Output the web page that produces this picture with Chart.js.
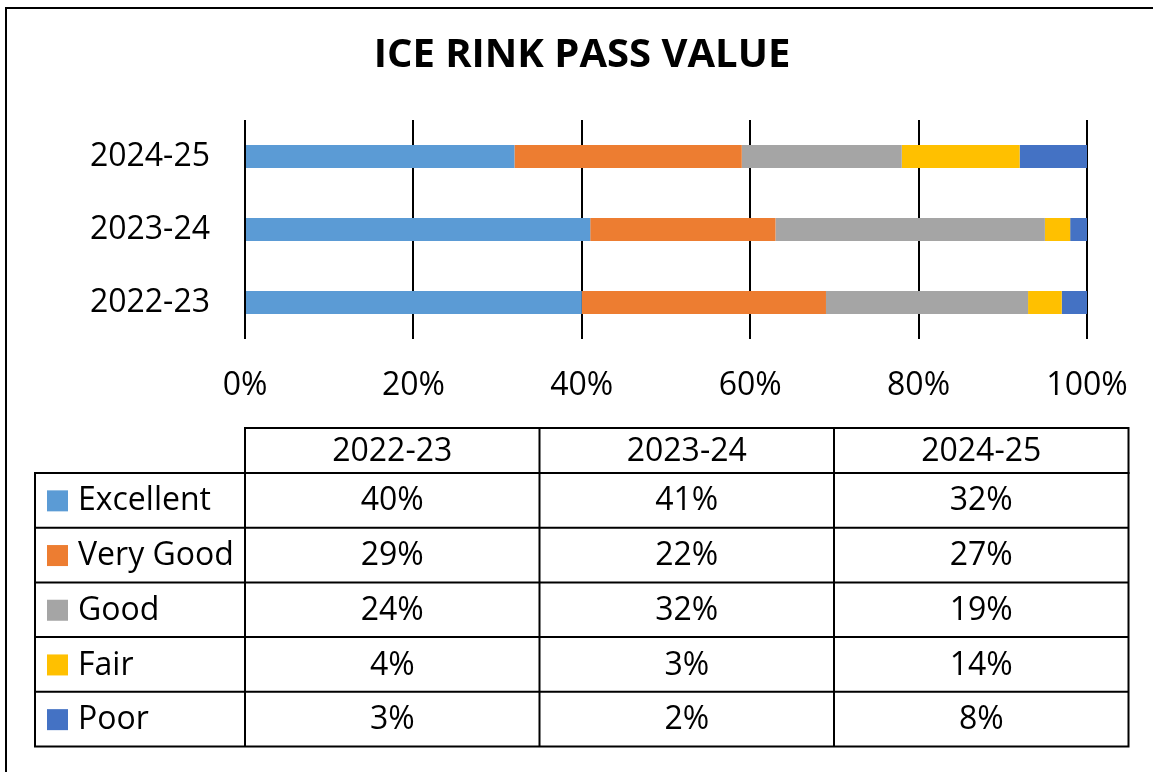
<!DOCTYPE html>
<html>
<head>
<meta charset="utf-8">
<title>Ice Rink Pass Value</title>
<script src="https://cdn.jsdelivr.net/npm/chart.js@4.4.1/dist/chart.umd.min.js"></script>
<style>
  html, body { margin: 0; padding: 0; background: #fff; }
  canvas { display: block; }
</style>
</head>
<body>
<canvas id="grafico" width="1153" height="772"></canvas>
<script>
// datos
const categories = ['2022-23', '2023-24', '2024-25'];
const seriesNames = ['Excellent', 'Very Good', 'Good', 'Fair', 'Poor'];
const excellent = [40, 41, 32];
const veryGood = [29, 22, 27];
const good = [24, 32, 19];
const fair = [4, 3, 14];
const poor = [3, 2, 8];
const xTicks = [0, 20, 40, 60, 80, 100];
const colores = ['#5B9BD5', '#ED7D31', '#A5A5A5', '#FFC000', '#4472C4'];

const seriesValues = [excellent, veryGood, good, fair, poor];
const fuente = "'Open Sans', sans-serif";

// tabla de datos debajo del grafico + marco
const tablaPlugin = {
  id: 'tablaDatos',
  afterDraw(chart) {
    const ctx = chart.ctx;
    const area = chart.chartArea;
    const colW = 294.5;
    const left = area.left;
    const right = left + colW * categories.length;
    const legendLeft = 35;
    const headTop = 428;
    const bodyTop = 473;
    const rowH = 54.7;
    const bodyBottom = bodyTop + rowH * seriesNames.length;

    ctx.save();
    ctx.strokeStyle = '#000';
    ctx.lineWidth = 2;

    // marco exterior
    ctx.beginPath();
    ctx.moveTo(6, 772);
    ctx.lineTo(6, 8);
    ctx.lineTo(1153, 8);
    ctx.stroke();

    // cabecera
    ctx.strokeRect(left, headTop, right - left, bodyTop - headTop);
    // cuerpo
    ctx.strokeRect(legendLeft, bodyTop, right - legendLeft, bodyBottom - bodyTop);
    ctx.beginPath();
    for (let i = 1; i < seriesNames.length; i++) {
      const y = bodyTop + rowH * i;
      ctx.moveTo(legendLeft, y);
      ctx.lineTo(right, y);
    }
    for (let c = 0; c < categories.length; c++) {
      const x = left + colW * c;
      ctx.moveTo(x, headTop);
      ctx.lineTo(x, bodyBottom);
    }
    ctx.stroke();

    ctx.fillStyle = '#000';
    ctx.font = '32px ' + fuente;
    ctx.textBaseline = 'middle';
    ctx.textAlign = 'center';
    categories.forEach((cat, c) => {
      ctx.fillText(cat, left + colW * (c + 0.5), (headTop + bodyTop) / 2 + 1);
    });

    seriesNames.forEach((name, r) => {
      const cy = bodyTop + rowH * (r + 0.5) + 1;
      ctx.fillStyle = colores[r];
      ctx.fillRect(47, cy - 11, 21, 21);
      ctx.fillStyle = '#000';
      ctx.textAlign = 'left';
      ctx.fillText(name, 78, cy);
      ctx.textAlign = 'center';
      seriesValues[r].forEach((v, c) => {
        ctx.fillText(v + '%', left + colW * (c + 0.5), cy);
      });
    });
    ctx.restore();
  }
};

new Chart(document.getElementById('grafico'), {
  type: 'bar',
  data: {
    labels: categories,
    datasets: seriesNames.map((name, i) => ({
      label: name,
      data: seriesValues[i],
      backgroundColor: colores[i],
      borderWidth: 0,
      categoryPercentage: 1,
      barPercentage: 0.315
    }))
  },
  options: {
    indexAxis: 'y',
    responsive: false,
    animation: false,
    devicePixelRatio: 1,
    layout: {
      padding: { left: 77, right: 66, top: 0, bottom: 369 }
    },
    plugins: {
      legend: { display: false },
      tooltip: { enabled: false },
      title: {
        display: true,
        text: 'ICE RINK PASS VALUE',
        color: '#000',
        font: { family: fuente, size: 40, weight: 'bold' },
        padding: { top: 32, bottom: 40 }
      }
    },
    scales: {
      x: {
        stacked: true,
        min: xTicks[0],
        max: xTicks[xTicks.length - 1],
        afterBuildTicks: (scale) => {
          scale.ticks = xTicks.map(v => ({ value: v }));
        },
        afterFit: (scale) => {
          scale.height = 64;
          scale.paddingLeft = 0;
          scale.paddingRight = 0;
        },
        border: { display: false },
        grid: { color: '#000', lineWidth: 2, drawTicks: false },
        ticks: {
          color: '#000',
          padding: 28,
          font: { family: fuente, size: 32 },
          callback: v => v + '%'
        }
      },
      y: {
        stacked: true,
        reverse: true,
        afterFit: (scale) => { scale.width = 168; },
        border: { display: false },
        grid: { display: false, drawTicks: false },
        ticks: {
          color: '#000',
          padding: 35,
          font: { family: fuente, size: 32 }
        }
      }
    }
  },
  plugins: [tablaPlugin]
});
</script>
</body>
</html>
